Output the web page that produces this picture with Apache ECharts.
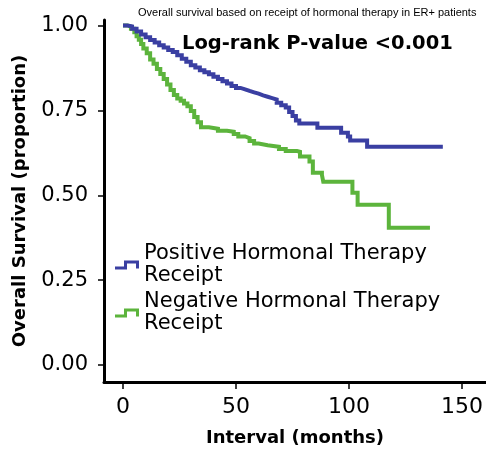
<!DOCTYPE html>
<html>
<head>
<meta charset="utf-8">
<script src="https://cdn.jsdelivr.net/npm/echarts@6/dist/echarts.min.js"></script>
<style>html,body{margin:0;padding:0;background:#fff}#c{width:486px;height:458px}</style>
</head>
<body>
<div id="c"></div>
<script>
var chartTitle = 'Overall survival based on receipt of hormonal therapy in ER+ patients';
var pValueText = 'Log-rank P-value <0.001';
var seriesNames = ['Positive Hormonal Therapy\nReceipt', 'Negative Hormonal Therapy\nReceipt'];
var xTickLabels = ['0', '50', '100', '150'];
var yTickLabels = ['0.00', '0.25', '0.50', '0.75', '1.00'];

var positiveMonths = [0, 2, 4, 6, 8, 10, 12, 14, 16, 18, 20, 22, 24, 26, 28, 30, 32, 34, 36, 38, 40, 42, 44, 46, 48, 50, 52, 54, 56, 58, 60, 62, 64, 66, 68, 70, 72, 73.5, 75, 76.5, 78, 86, 96.5, 99.5, 100.5, 108, 141.5];
var positiveSurv = [1.0, 0.997, 0.99, 0.982, 0.973, 0.965, 0.957, 0.95, 0.942, 0.935, 0.928, 0.922, 0.912, 0.902, 0.893, 0.883, 0.876, 0.868, 0.862, 0.856, 0.849, 0.842, 0.836, 0.829, 0.822, 0.816, 0.812, 0.807, 0.803, 0.799, 0.794, 0.79, 0.786, 0.782, 0.772, 0.765, 0.758, 0.745, 0.733, 0.72, 0.711, 0.699, 0.684, 0.673, 0.661, 0.643, 0.643];

var negativeMonths = [0, 2, 3.5, 5, 6, 7, 8, 9, 10.5, 12, 13.5, 15, 16.5, 18, 19.5, 21, 22.5, 24, 25.5, 27, 28.5, 30, 31.5, 33, 34.5, 38, 42, 46, 49, 51, 54, 56, 58, 60, 64, 69, 72, 77, 78.3, 82.5, 84, 88, 88.6, 101.5, 103.8, 117.6, 135.8];
var negativeSurv = [1.0, 0.997, 0.99, 0.98, 0.968, 0.958, 0.945, 0.932, 0.918, 0.9, 0.887, 0.872, 0.857, 0.842, 0.826, 0.81, 0.795, 0.785, 0.778, 0.77, 0.762, 0.748, 0.73, 0.715, 0.7, 0.696, 0.69, 0.687, 0.68, 0.673, 0.668, 0.66, 0.652, 0.647, 0.643, 0.636, 0.63, 0.628, 0.614, 0.599, 0.566, 0.56, 0.54, 0.507, 0.472, 0.404, 0.404];

function pairs(xs, ys) { return xs.map(function (x, i) { return [x, ys[i]]; }); }

var blue = '#3a3fa2';
var green = '#5cb43c';
var font = 'DejaVu Sans';
var stepIcon = 'path://M0,6L9,6L9,0L24,0L24,8L21,8L21,3L12,3L12,9L0,9Z';
var hidden = { show: false };

var chart = echarts.init(document.getElementById('c'), null, { renderer: 'canvas' });
chart.setOption({
  animation: false,
  backgroundColor: '#fff',
  title: [
    { text: chartTitle, left: 138, top: 7, padding: 0,
      textStyle: { fontFamily: 'Liberation Sans', fontSize: 11, fontWeight: 'normal', color: '#000' } },
    { text: pValueText, left: 182, top: 34, padding: 0,
      textStyle: { fontFamily: font, fontSize: 19.5, fontWeight: 'bold', color: '#000' } }
  ],
  grid: [
    { left: 104, right: 0, top: 20, bottom: 76, containLabel: false, outerBoundsMode: 'none' },
    { left: 104, right: 0, top: 25.5, bottom: 93, containLabel: false, outerBoundsMode: 'none' },
    { left: 123, right: 24, top: 20, bottom: 76, containLabel: false, outerBoundsMode: 'none' }
  ],
  xAxis: [
    { gridIndex: 0, type: 'value', min: -8.41, max: 160.6,
      name: 'Interval (months)', nameLocation: 'middle', nameGap: 47,
      nameTextStyle: { fontFamily: font, fontSize: 18, fontWeight: 'bold', color: '#000' },
      axisLine: { onZero: false, lineStyle: { color: '#000', width: 3 } },
      axisTick: hidden, axisLabel: hidden, splitLine: hidden },
    { gridIndex: 1, type: 'value', min: -8.41, max: 160.6, show: false },
    { gridIndex: 2, type: 'value', min: 0, max: 150, interval: 50,
      axisLine: { show: false, onZero: false },
      axisTick: { show: true, length: 7, lineStyle: { color: '#000', width: 1.5 } },
      axisLabel: { margin: 14, fontFamily: font, fontSize: 22, color: '#000',
        formatter: function (v) { return xTickLabels[Math.round(v / 50)]; } },
      splitLine: hidden }
  ],
  yAxis: [
    { gridIndex: 0, type: 'value', min: -0.05, max: 1.016,
      name: 'Overall Survival (proportion)', nameLocation: 'middle', nameGap: 75,
      nameTextStyle: { fontFamily: font, fontSize: 18, fontWeight: 'bold', color: '#000' },
      axisLine: { show: true, onZero: false, lineStyle: { color: '#000', width: 3 } },
      axisTick: hidden, axisLabel: hidden, splitLine: hidden },
    { gridIndex: 1, type: 'value', min: 0, max: 1, interval: 0.25,
      axisLine: { show: false, onZero: false },
      axisTick: { show: true, length: 6, lineStyle: { color: '#000', width: 1.5 } },
      axisLabel: { margin: 16, fontFamily: font, fontSize: 21, color: '#000',
        formatter: function (v) { return yTickLabels[Math.round(v / 0.25)]; } },
      splitLine: hidden },
    { gridIndex: 2, type: 'value', min: -0.05, max: 1.016, show: false }
  ],
  legend: {
    orient: 'vertical', left: 110, top: 238, itemGap: 4,
    itemWidth: 24, itemHeight: 9,
    textStyle: { fontFamily: font, fontSize: 21, lineHeight: 22, color: '#000' },
    data: [
      { name: seriesNames[0], icon: stepIcon, itemStyle: { color: blue } },
      { name: seriesNames[1], icon: stepIcon, itemStyle: { color: green } }
    ]
  },
  series: [
    { name: seriesNames[0], type: 'line', step: 'end', showSymbol: false, symbol: 'none',
      xAxisIndex: 0, yAxisIndex: 0,
      data: pairs(positiveMonths, positiveSurv), itemStyle: { color: blue },
      lineStyle: { color: blue, width: 4, join: 'miter' }, z: 3 },
    { name: seriesNames[1], type: 'line', step: 'end', showSymbol: false, symbol: 'none',
      xAxisIndex: 0, yAxisIndex: 0,
      data: pairs(negativeMonths, negativeSurv), itemStyle: { color: green },
      lineStyle: { color: green, width: 4, join: 'miter' }, z: 2 }
  ]
});
</script>
</body>
</html>
